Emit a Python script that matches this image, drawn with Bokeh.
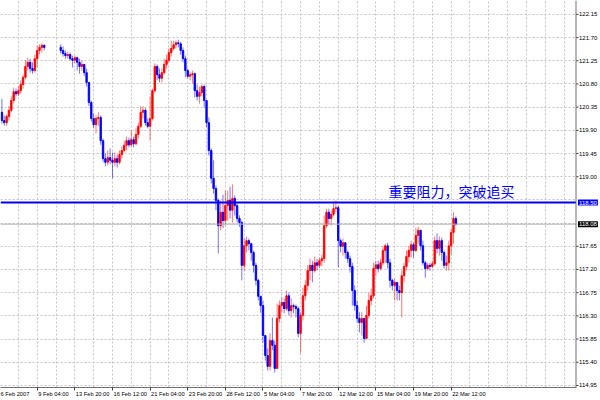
from bokeh.plotting import figure
from bokeh.models import (ColumnDataSource, FixedTicker, Range1d, Span, Label, BoxAnnotation)
from bokeh.core.properties import value
from bokeh.embed import file_html
from bokeh.resources import INLINE

# ---------------- data (H4 candles, bar position = bar number on the time axis) ----------------
bar_index = list(range(1, 20)) + list(range(26, 195))
first_open = 120.25

bar_close = [
    120.09, 120.05, 120.17, 120.29, 120.48, 120.65, 120.61, 120.67, 120.79, 120.93,
    121.14, 121.22, 121.10, 121.06, 121.29, 121.45, 121.51, 121.55, 121.51,
    121.45, 121.39, 121.35, 121.37, 121.29, 121.26, 121.31, 121.22, 121.14, 121.18,
    121.02, 120.83, 120.44, 120.13, 120.01, 120.13, 120.15, 119.70, 119.35, 119.28,
    119.37, 119.32, 119.28, 119.35, 119.28, 119.43, 119.51, 119.61, 119.70, 119.62,
    119.72, 119.64, 119.82, 119.98, 120.25, 120.29, 120.05, 119.98, 120.13, 120.67,
    121.14, 120.98, 120.91, 121.02, 121.18, 121.26, 121.41, 121.49, 121.56, 121.60,
    121.58, 121.45, 121.29, 121.06, 120.95, 120.98, 121.00, 120.67, 120.56, 120.63,
    120.75, 120.48, 120.05, 119.51, 118.97, 118.77, 118.54, 118.05, 118.31, 118.15,
    118.44, 118.54, 118.35, 118.58, 118.44, 118.19, 118.11, 117.28, 117.66, 117.76,
    117.70, 117.53, 117.28, 116.99, 116.68, 116.50, 115.92, 115.53, 115.32, 115.82,
    115.73, 115.28, 116.25, 116.50, 116.56, 116.44, 116.69, 116.40, 116.50, 116.48,
    116.44, 115.96, 116.31, 116.69, 116.89, 117.18, 117.28, 117.18, 117.33, 117.28,
    117.37, 117.41, 118.05, 118.31, 118.19, 118.27, 118.38, 118.40, 117.76, 117.65,
    117.72, 117.53, 117.41, 117.26, 116.79, 116.50, 116.25, 116.17, 116.25, 115.86,
    116.31, 116.60, 116.69, 117.22, 117.29, 117.22, 117.33, 117.57, 117.66, 117.33,
    116.99, 116.89, 116.95, 116.79, 116.75, 117.08, 117.26, 117.45, 117.57, 117.68,
    117.57, 117.86, 117.96, 117.66, 117.33, 117.22, 117.28, 117.26, 117.31, 117.76,
    117.61, 117.76, 117.53, 117.28, 117.33, 117.66, 117.92, 118.19, 118.08,
]

bar_high = [
    120.51, 120.19, 120.21, 120.37, 120.56, 120.73, 120.71, 120.75, 120.87, 120.98,
    121.26, 121.31, 121.29, 121.22, 121.37, 121.55, 121.57, 121.59, 121.57,
    121.57, 121.53, 121.45, 121.43, 121.41, 121.35, 121.35, 121.33, 121.29, 121.26,
    121.18, 121.10, 120.83, 120.48, 120.23, 120.19, 120.25, 120.19, 119.74, 119.45,
    119.51, 119.55, 119.47, 119.47, 119.43, 119.51, 119.59, 119.70, 119.78, 119.76,
    119.90, 119.78, 119.94, 120.05, 120.37, 120.37, 120.33, 120.13, 120.56, 120.71,
    121.20, 121.18, 121.10, 121.10, 121.29, 121.37, 121.49, 121.64, 121.64, 121.64,
    121.66, 121.62, 121.51, 121.35, 121.10, 121.04, 121.06, 121.02, 120.79, 120.75,
    120.79, 120.79, 120.44, 120.15, 119.55, 119.32, 118.83, 118.58, 118.54, 118.65,
    118.73, 118.73, 118.81, 118.85, 118.64, 118.48, 118.25, 118.15, 117.80, 117.84,
    117.80, 117.72, 117.57, 117.33, 117.02, 116.69, 116.60, 115.92, 115.67, 115.96,
    116.27, 115.82, 116.54, 116.60, 116.66, 116.64, 116.79, 116.75, 116.64, 116.54,
    116.52, 116.48, 116.37, 116.85, 116.99, 117.28, 117.41, 117.37, 117.45, 117.41,
    117.43, 117.49, 118.25, 118.38, 118.38, 118.35, 118.52, 118.54, 118.44, 117.80,
    117.80, 117.66, 117.57, 117.47, 117.33, 116.89, 116.60, 116.37, 116.37, 116.17,
    116.50, 116.75, 116.83, 117.33, 117.37, 117.37, 117.41, 117.66, 117.70, 117.72,
    117.41, 117.02, 117.02, 116.95, 116.89, 117.18, 117.33, 117.57, 117.65, 117.76,
    117.72, 118.01, 118.03, 117.92, 117.76, 117.37, 117.33, 117.33, 117.37, 117.84,
    117.90, 117.84, 117.82, 117.57, 117.47, 117.76, 118.00, 118.31, 118.23,
]

bar_low = [
    120.03, 119.99, 119.99, 120.09, 120.25, 120.42, 120.56, 120.56, 120.61, 120.71,
    120.89, 121.06, 121.02, 121.00, 121.02, 121.12, 121.37, 121.41, 121.45,
    121.39, 121.33, 121.29, 121.29, 121.26, 121.12, 121.20, 121.06, 121.00, 121.06,
    120.96, 120.75, 120.37, 120.07, 119.94, 119.84, 119.99, 119.62, 119.28, 119.20,
    119.22, 119.24, 118.97, 119.20, 119.18, 119.24, 119.35, 119.47, 119.51, 119.57,
    119.59, 119.57, 119.61, 119.74, 119.94, 120.13, 119.99, 119.94, 119.70, 120.09,
    120.63, 120.87, 120.83, 120.83, 120.98, 121.10, 121.22, 121.33, 121.45, 121.49,
    121.51, 121.37, 121.22, 120.93, 120.91, 120.87, 120.81, 120.54, 120.48, 120.42,
    120.56, 120.34, 119.96, 119.41, 118.87, 118.67, 118.35, 117.51, 117.96, 118.00,
    118.05, 118.15, 118.19, 118.11, 118.25, 118.11, 118.03, 116.99, 117.18, 117.53,
    117.57, 117.37, 117.14, 116.89, 116.60, 116.36, 115.78, 115.43, 115.24, 115.24,
    115.63, 115.20, 115.28, 116.17, 116.36, 116.35, 116.40, 116.31, 116.27, 116.35,
    116.27, 115.88, 115.57, 116.21, 116.60, 116.79, 116.99, 116.95, 117.14, 117.18,
    117.22, 117.26, 117.33, 118.00, 118.07, 118.05, 118.23, 118.31, 117.24, 117.53,
    117.47, 117.41, 117.33, 117.14, 116.50, 116.40, 116.17, 115.98, 115.92, 115.78,
    115.86, 116.25, 116.50, 116.64, 117.08, 117.14, 117.18, 117.28, 117.33, 117.22,
    116.85, 116.79, 116.60, 116.60, 116.60, 116.27, 116.95, 117.18, 117.33, 117.43,
    117.43, 117.53, 117.70, 117.57, 117.28, 117.04, 117.18, 117.18, 117.22, 117.28,
    117.51, 117.47, 117.37, 117.22, 117.18, 117.18, 117.49, 117.70, 118.05,
]

# forex candles: each bar opens at the previous bar's close
bar_open = [first_open] + bar_close[:-1]

y_ticks = [114.95, 115.40, 115.85, 116.30, 116.75, 117.20, 117.65, 118.10, 118.55,
           119.00, 119.45, 119.90, 120.35, 120.80, 121.25, 121.70, 122.15]
x_tick_index = [0, 16, 32, 48, 64, 80, 96, 112, 128, 144, 160, 176, 192]
x_tick_labels = ["6 Feb 2007", "9 Feb 04:00", "13 Feb 20:00", "16 Feb 12:00",
                 "21 Feb 04:00", "23 Feb 20:00", "28 Feb 12:00", "5 Mar 04:00",
                 "7 Mar 20:00", "12 Mar 12:00", "15 Mar 04:00", "19 Mar 20:00",
                 "22 Mar 12:00"]
resistance_level = 118.50
last_price = 118.08
note_text = "重要阻力，突破追买"
note_index = 165.4
note_price = 118.73

UP = "#ff0000"
DOWN = "#0000ff"
FONT = "Liberation Sans"
FS = 5.7  # px

# ---------------- figure ----------------
W, H = 600, 400
px_per_index = 2.352
x0 = 0.4                       # left edge of the price area (bar number)
x1 = x0 + 575.5 / px_per_index  # the price scale sits here
x_end = x0 + W / px_per_index    # frame runs on under the price labels
y0, y1 = 114.91, 122.42

p = figure(width=W, height=H, output_backend="svg", toolbar_location=None,
           x_range=Range1d(x0, x_end), y_range=Range1d(y0, y1),
           y_axis_location=None,
           min_border_left=0, min_border_top=0, min_border_right=0, min_border_bottom=13)
p.outline_line_color = None
p.background_fill_color = "white"
p.border_fill_color = "white"

colors = [UP if c > o else DOWN for o, c in zip(bar_open, bar_close)]
src = ColumnDataSource(dict(
    x=bar_index, open=bar_open, close=bar_close, high=bar_high, low=bar_low,
    top=[max(o, c) for o, c in zip(bar_open, bar_close)],
    bottom=[min(o, c) for o, c in zip(bar_open, bar_close)],
    color=colors,
))

# grids
p.ygrid.ticker = FixedTicker(ticks=y_ticks)
p.xgrid.ticker = FixedTicker(ticks=list(range(8, 241, 8)))
for g in (p.xgrid[0], p.ygrid[0]):
    g.grid_line_color = "#c4c4c4"
    g.grid_line_dash = "2 2"
    g.grid_line_width = 1

# blank strip under the price scale (hides grid there)
p.add_layout(BoxAnnotation(left=x1, fill_color="white", fill_alpha=1.0,
                           line_color=None, level="underlay"))

# candles
p.segment(x0="x", y0="low", x1="x", y1="high", source=src, line_color="color",
          line_width=1, line_alpha=0.55)
p.vbar(x="x", width=0.6, top="top", bottom="bottom", source=src,
       fill_color="color", line_color="color", line_width=0.9)

# current price line and resistance line (end at the price scale)
p.segment(x0=[x0], y0=[last_price], x1=[x1], y1=[last_price], line_color="#b0b0b0", line_width=1)
p.segment(x0=[x0], y0=[resistance_level], x1=[x1], y1=[resistance_level],
          line_color="#0000ff", line_width=2)

# price scale on the right
p.add_layout(Span(location=x1, dimension="height", line_color="#707070", line_width=1))
shown = [t for t in y_ticks if t not in (118.10, 118.55)]
tick_len = 2.5 / px_per_index
p.segment(x0=[x1] * len(shown), y0=shown, x1=[x1 + tick_len] * len(shown), y1=shown,
          line_color="#404040", line_width=1)
p.text(x=[x1 + 3.0 / px_per_index] * len(shown), y=shown, text=[f"{t:.2f}" for t in shown],
       text_align="left", text_baseline="middle", text_font=value(FONT),
       text_font_size="6px", text_color="#000000")

# time axis: minor ticks mark the dates, labels start just right of them
CW = {"0": .556, "1": .556, "2": .556, "3": .556, "4": .556, "5": .556, "6": .556,
      "7": .556, "8": .556, "9": .556, " ": .278, ":": .278, "F": .611, "e": .556,
      "b": .556, "M": .833, "a": .556, "r": .333}
label_pos = []
for xi, lab in zip(x_tick_index, x_tick_labels):
    w = FS * sum(CW.get(ch, .556) for ch in lab)
    label_pos.append(round(xi + (1.0 + w / 2.0) / px_per_index, 3))

xa = p.xaxis[0]
xa.bounds = (x0, x1)
xa.ticker = FixedTicker(ticks=label_pos, minor_ticks=x_tick_index)
xa.major_label_overrides = {pos: lab for pos, lab in zip(label_pos, x_tick_labels)}
xa.axis_line_color = "#707070"
xa.major_tick_line_color = None
xa.major_tick_out = 3
xa.major_tick_in = 0
xa.minor_tick_line_color = "#404040"
xa.minor_tick_out = 3
xa.minor_tick_in = 0
xa.major_label_standoff = 0
xa.major_label_text_font = FONT
xa.major_label_text_font_size = f"{FS}px"
xa.major_label_text_color = "#000000"

# price boxes on the price scale
p.add_layout(Label(x=x1, y=resistance_level, x_offset=2, text="118.50",
                   text_align="left", text_baseline="middle",
                   text_font=FONT, text_font_size="6px",
                   text_color="white", background_fill_color="#0000ff", padding=1))
p.add_layout(Label(x=x1, y=last_price, x_offset=2, text="118.08",
                   text_align="left", text_baseline="middle",
                   text_font=FONT, text_font_size="6px",
                   text_color="white", background_fill_color="#000000", padding=1))

# annotation
p.add_layout(Label(x=note_index, y=note_price, text=note_text,
                   text_align="left", text_baseline="middle",
                   text_font="Noto Sans CJK SC", text_font_size="14px",
                   text_color="#0000ff"))

open("out.html", "w").write(file_html(p, INLINE))
